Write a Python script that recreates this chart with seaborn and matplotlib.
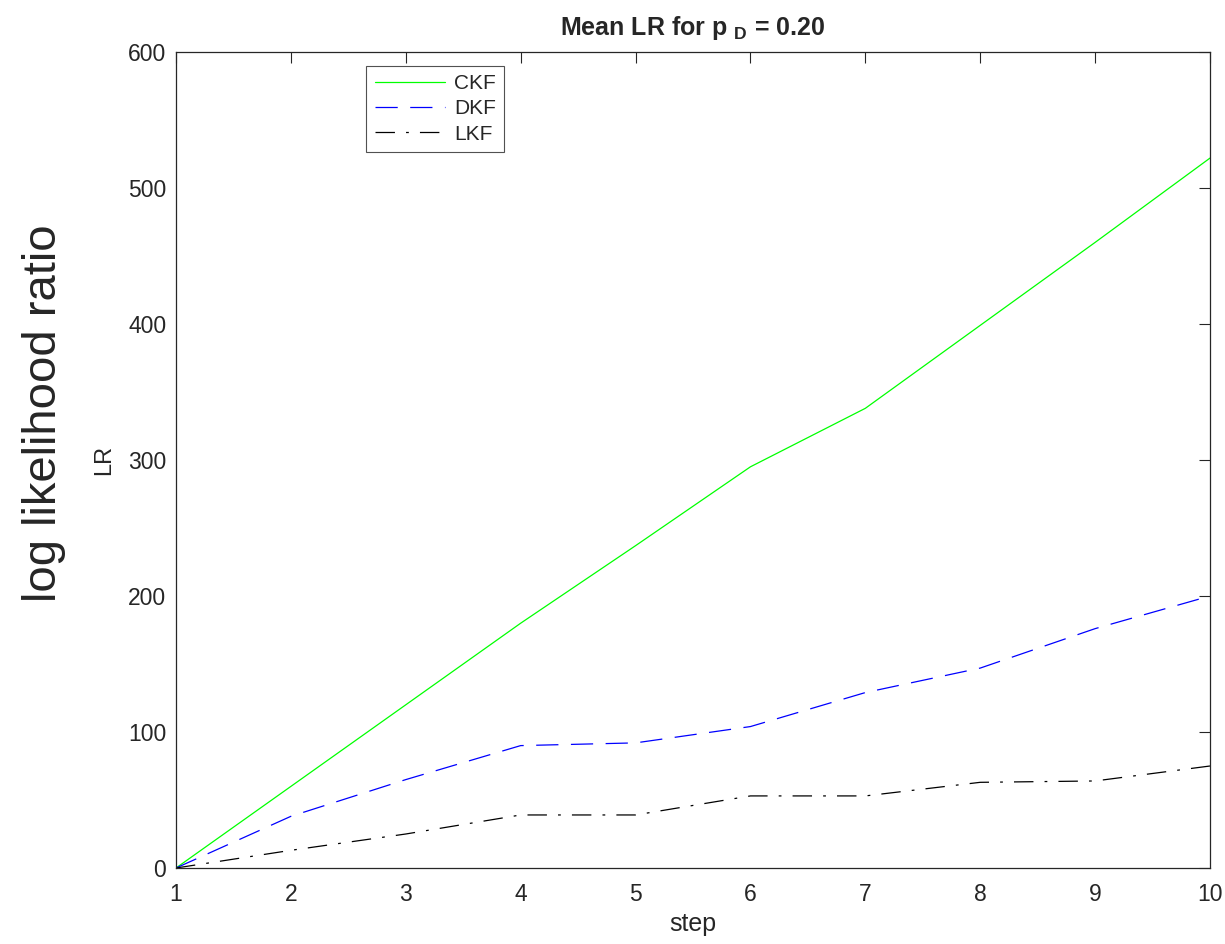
import numpy as np
import pandas as pd
import matplotlib
matplotlib.use("Agg")
import matplotlib.pyplot as plt
import seaborn as sns

# Values
steps = [1, 2, 3, 4, 5, 6, 7, 8, 9, 10]
ckf = [0, 60, 120, 180, 237, 295, 338, 399, 460, 522]
dkf = [0, 38, 65, 90, 92, 104, 129, 147, 176, 200]
lkf = [0, 13, 25, 39, 39, 53, 53, 63, 64, 75]

series_names = ["CKF", "DKF", "LKF"]
series_values = [ckf, dkf, lkf]
colors = {"CKF": "#00ff00", "DKF": "#0000ff", "LKF": "#000000"}
dash_styles = {"CKF": None, "DKF": (16, 9), "LKF": (14, 8, 2, 8)}

sns.set_style("white")
plt.rcParams["font.family"] = ["Liberation Sans", "DejaVu Sans"]
plt.rcParams["mathtext.fontset"] = "custom"
plt.rcParams["mathtext.rm"] = "Liberation Sans"
plt.rcParams["mathtext.bf"] = "Liberation Sans:bold"
plt.rcParams["lines.scale_dashes"] = False

fig = plt.figure(figsize=(12.25, 9.44), dpi=100)
ax = fig.add_axes([176 / 1225, 76 / 944, 1034 / 1225, 816 / 944])

for name, vals in zip(series_names, series_values):
    df = pd.DataFrame({"step": steps, "LR": vals})
    sns.lineplot(x="step", y="LR", data=df, ax=ax, color=colors[name],
                 linewidth=0.9, label=name)
    if dash_styles[name] is not None:
        ax.lines[-1].set_dashes(dash_styles[name])

ax.set_xlim(1, 10)
ax.set_ylim(0, 600)
ax.set_xticks(range(1, 11))
ax.set_yticks(range(0, 601, 100))
ax.tick_params(direction="in", length=8, width=0.8, colors="#262626",
               labelsize=16.5, top=True, right=True)
ax.tick_params(axis="x", pad=11)
ax.tick_params(axis="y", pad=7)
for sp in ax.spines.values():
    sp.set_color("#262626")
    sp.set_linewidth(0.9)

ax.set_xlabel("step", fontsize=18, color="#262626", labelpad=4)
ax.set_ylabel("LR", fontsize=17, color="#262626", labelpad=9)
ax.set_title(r"Mean LR for p $_{\mathbf{D}}$ = 0.20", fontsize=18,
             fontweight="bold", pad=12)

leg = ax.legend(loc="upper left", bbox_to_anchor=(0.184, 0.983), fontsize=15,
                handlelength=3.4, frameon=True, fancybox=False,
                borderaxespad=0, borderpad=0.4, labelspacing=0.3,
                handletextpad=0.4)
leg.get_frame().set_edgecolor("#262626")
leg.get_frame().set_linewidth(0.8)

fig.text(0.036, 1 - 413 / 944, "log likelihood ratio", rotation=90,
         fontsize=34, ha="center", va="center")

fig.savefig("out.png", dpi=100)
